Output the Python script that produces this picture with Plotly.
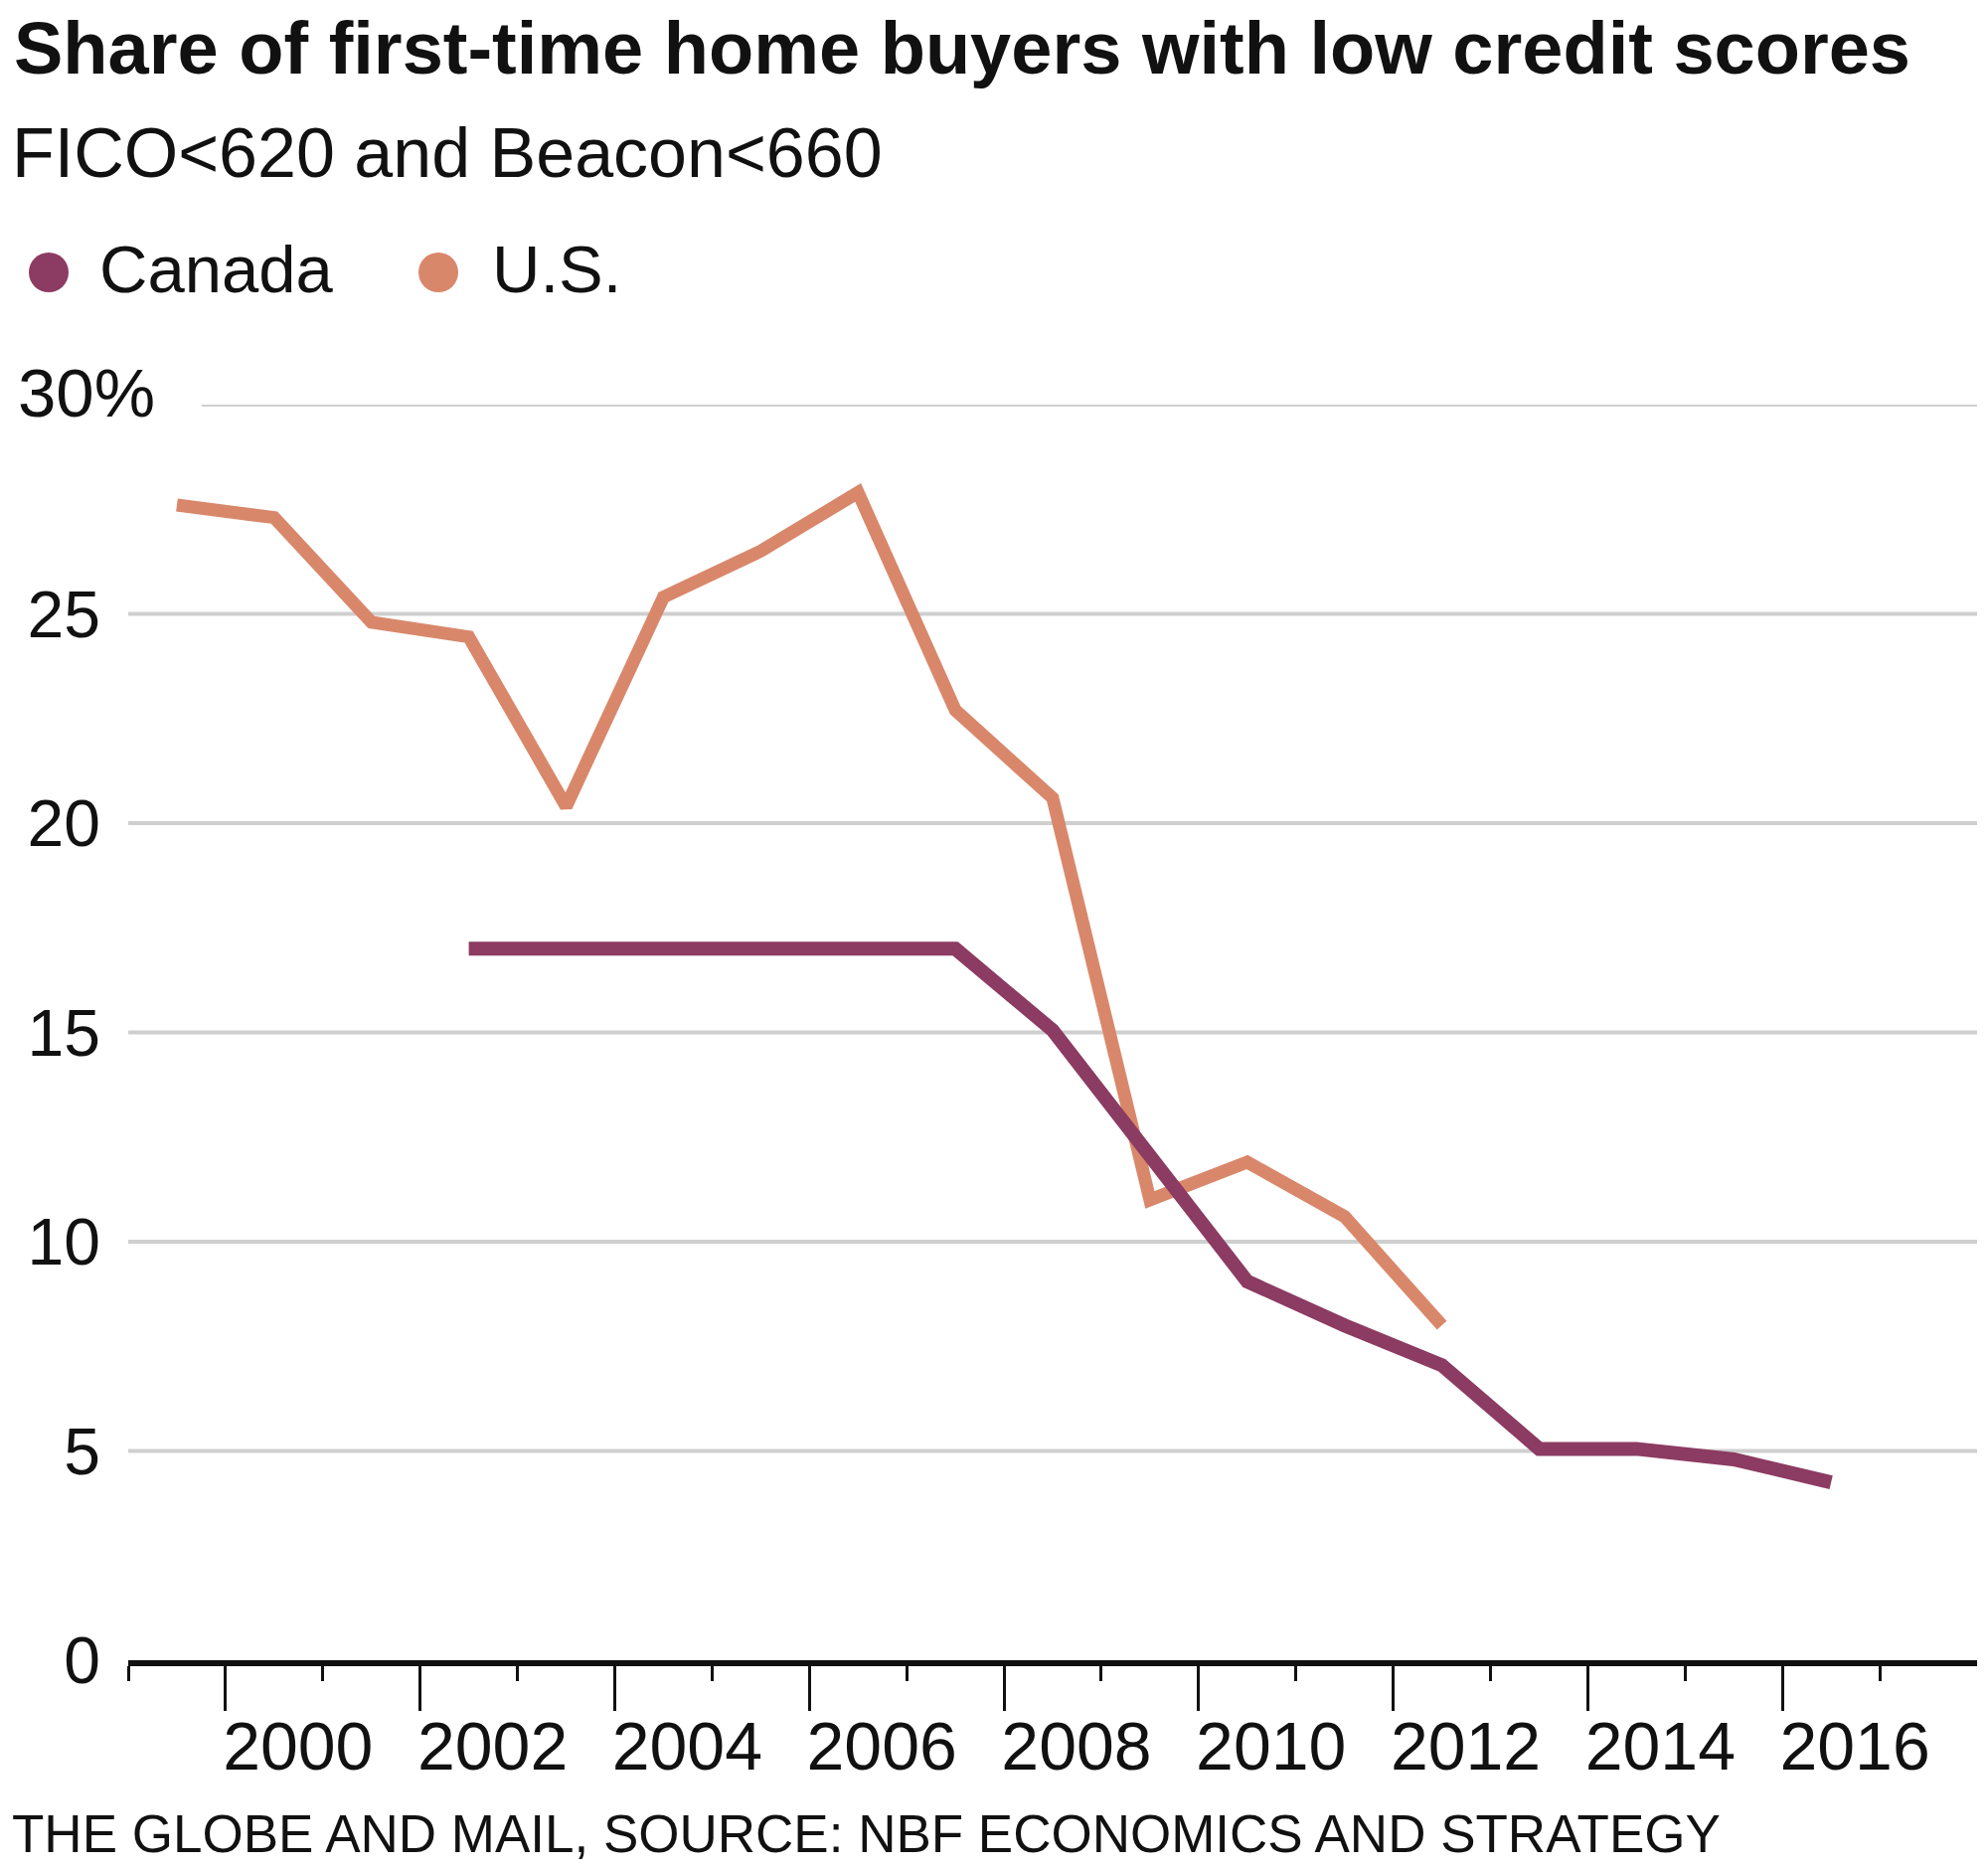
import plotly.graph_objects as go

# Data (share of first-time buyers with low credit scores, %)
us_years = [1999, 2000, 2001, 2002, 2003, 2004, 2005, 2006, 2007, 2008, 2009, 2010, 2011, 2012]
us_values = [27.6, 27.3, 24.8, 24.45, 20.4, 25.4, 26.5, 27.9, 22.7, 20.6, 11.0, 11.9, 10.6, 8.0]

canada_years = [2002, 2003, 2004, 2005, 2006, 2007, 2008, 2009, 2010, 2011, 2012, 2013, 2014, 2015, 2016]
canada_values = [17.0, 17.0, 17.0, 17.0, 17.0, 17.0, 15.05, 12.0, 9.05, 8.0, 7.05, 5.05, 5.05, 4.8, 4.25]

y_ticks = [0, 5, 10, 15, 20, 25, 30]
y_labels = ["0", "5", "10", "15", "20", "25", ""]
x_label_years = [2000, 2002, 2004, 2006, 2008, 2010, 2012, 2014, 2016]

CANADA = "#8C3B62"
US = "#D9876B"
W, H = 2000, 1880
L, R, T, B = 121, 19, 399, 218
PW, PH = W - L - R, H - T - B


def px(x):
    return (x - L) / PW


def py(y):
    return (H - B - y) / PH


fig = go.Figure()

fig.add_trace(go.Scatter(
    x=us_years, y=us_values, mode="lines", name="U.S.",
    line=dict(color=US, width=13), showlegend=False, hoverinfo="skip"
))
fig.add_trace(go.Scatter(
    x=canada_years, y=canada_values, mode="lines", name="Canada",
    line=dict(color=CANADA, width=14), showlegend=False, hoverinfo="skip"
))

# gridlines (the 30% line starts after its label)
for v in y_ticks[1:]:
    fig.add_shape(type="line", xref="paper", yref="y",
                  x0=px(195) if v == 30 else 0, x1=1, y0=v, y1=v,
                  line=dict(color="#cfcfcf", width=4), layer="below")

# legend circles
for cx, col in [(41, CANADA), (433, US)]:
    fig.add_shape(type="circle", xref="paper", yref="paper",
                  xsizemode="pixel", ysizemode="pixel",
                  xanchor=px(cx), yanchor=py(266),
                  x0=-20, x1=20, y0=-20, y1=20,
                  fillcolor=col, line=dict(width=0))

base = "Liberation Sans"
annotations = [
    dict(text="<b>Share of first-time home buyers with low credit scores</b>",
         x=px(4), y=py(40), font=dict(size=74, family=base, color="#111")),
    dict(text="FICO<620 and Beacon<660", x=px(2), y=py(146),
         font=dict(size=70, family=base, color="#111")),
    dict(text="Canada", x=px(90), y=py(262), font=dict(size=67, family=base, color="#111")),
    dict(text="U.S.", x=px(485), y=py(262), font=dict(size=67, family=base, color="#111")),
    dict(text="30%", x=px(8), y=py(388), font=dict(size=69, family=base, color="#111")),
    dict(text="THE GLOBE AND MAIL, SOURCE: NBF ECONOMICS AND STRATEGY", x=px(2), y=py(1836),
         font=dict(size=53, family=base, color="#111")),
]
for a in annotations:
    fig.add_annotation(xref="paper", yref="paper", xanchor="left", yanchor="middle",
                       showarrow=False, **a)

fig.update_layout(
    width=W, height=H,
    margin=dict(l=L, r=R, t=T, b=B),
    paper_bgcolor="white", plot_bgcolor="white",
    showlegend=False,
    xaxis=dict(
        range=[1998.5, 2017.5], showgrid=False, zeroline=False,
        showline=True, linecolor="#111", linewidth=6,
        tickvals=[1998.5] + [y + 0.5 for y in x_label_years],
        ticktext=[""] + [str(y) for y in x_label_years],
        ticks="outside", ticklen=15, tickwidth=3, tickcolor="#111",
        ticklabelshift=-25, ticklabelstandoff=7,
        tickfont=dict(size=68, family=base, color="#111"),
        minor=dict(tickvals=[y - 0.5 for y in x_label_years] + [2015.5],
                   ticks="outside", ticklen=45, tickwidth=3, tickcolor="#111",
                   showgrid=False),
    ),
    yaxis=dict(
        range=[0, 30], showgrid=False, zeroline=False, showline=False,
        tickvals=y_ticks, ticktext=y_labels,
        ticks="", ticklabelstandoff=27,
        tickfont=dict(size=66, family=base, color="#111"),
    ),
)

fig.write_html("out.html")
